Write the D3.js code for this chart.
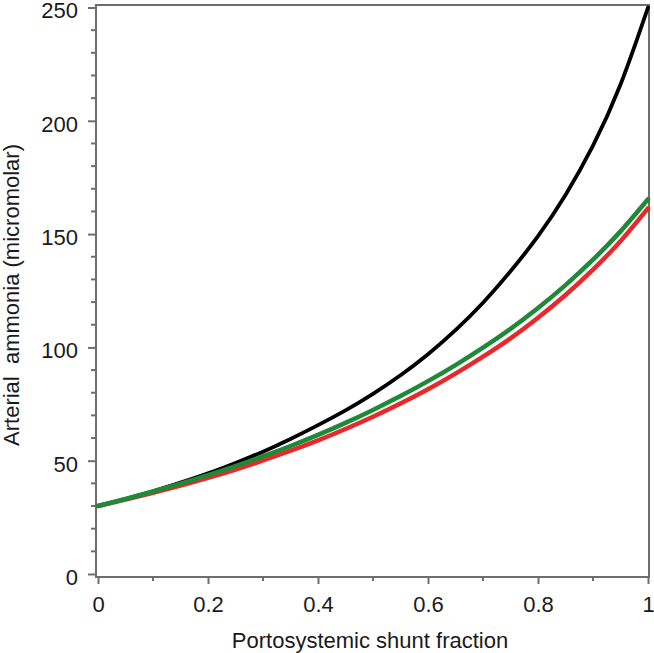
<!DOCTYPE html>
<html>
<head>
<meta charset="utf-8">
<script src="https://d3js.org/d3.v7.min.js"></script>
<style>
  body { margin: 0; background: #fff; }
  text { font-family: "Liberation Sans", Arial, sans-serif; fill: #1a1a1a; }
</style>
</head>
<body>
<div id="chart"></div>
<script>
// values
const shunt = [0, 0.05, 0.1, 0.15, 0.2, 0.25, 0.3, 0.35, 0.4, 0.45, 0.5,
               0.55, 0.6, 0.65, 0.7, 0.75, 0.8, 0.85, 0.9, 0.95, 1];
const blackSeries = [30, 33.1, 36.5, 40.3, 44.4, 49, 54, 59.6, 65.7, 72.2, 79.5,
                     87.7, 97, 107.6, 119.7, 133.6, 149.1, 167.3, 189, 216, 250];
const greenSeries = [30, 33.1, 36.4, 39.9, 43.6, 47.6, 51.9, 56.5, 61.4, 66.7, 72.4,
                     78.5, 85.1, 92.2, 99.9, 108.2, 117.4, 127.5, 138.7, 151.2, 165.4];
const redSeries = [30, 32.8, 35.8, 39, 42.4, 46.1, 50.1, 54.4, 59, 64, 69.4,
                   75.2, 81.5, 88.4, 95.9, 104, 113.1, 123.1, 134.3, 146.9, 161.4];
const xTicks = [0, 0.2, 0.4, 0.6, 0.8, 1];
const yTicks = [0, 50, 100, 150, 200, 250];

const W = 654, H = 653;
const AXIS = "#6e6e6e";

const svg = d3.select("#chart").append("svg")
    .attr("width", W)
    .attr("height", H);

const x = d3.scaleLinear().domain([0, 1]).range([98, 648]);
const y = d3.scaleLinear().domain([0, 250]).range([574, 7.5]);

const plotLeft = 96, plotRight = 649, plotTop = 5, plotBottom = 577;

// minor ticks
const yMinor = d3.range(0, 251, 10).filter(v => v % 50 !== 0);
const xMinor = d3.range(1, 10, 2).map(v => v / 10);

svg.append("g")
    .selectAll("line")
    .data(yMinor)
    .join("line")
    .attr("x1", plotLeft - 5).attr("x2", plotLeft)
    .attr("y1", d => y(d)).attr("y2", d => y(d))
    .attr("stroke", AXIS).attr("stroke-width", 2);

svg.append("g")
    .selectAll("line")
    .data(xMinor)
    .join("line")
    .attr("x1", d => x(d)).attr("x2", d => x(d))
    .attr("y1", plotBottom).attr("y2", plotBottom + 4)
    .attr("stroke", AXIS).attr("stroke-width", 2);

// major axes
const yAxis = svg.append("g")
    .attr("transform", "translate(" + plotLeft + ",0)")
    .call(d3.axisLeft(y).tickValues(yTicks).tickSize(8).tickPadding(10));
yAxis.select(".domain").remove();
yAxis.selectAll(".tick text").attr("dy", "0.47em");

const xAxis = svg.append("g")
    .attr("transform", "translate(0," + plotBottom + ")")
    .call(d3.axisBottom(x).tickValues(xTicks).tickSize(7).tickPadding(12)
        .tickFormat(d => d3.format("")(d)));
xAxis.select(".domain").remove();

svg.selectAll(".tick line").attr("stroke", AXIS).attr("stroke-width", 2);
svg.selectAll(".tick text")
    .style("font-size", "22px")
    .attr("fill", "#1a1a1a");

// frame
svg.append("path")
    .attr("d", "M" + plotLeft + "," + plotTop + "H" + plotRight + "V" + plotBottom + "H" + plotLeft + "Z")
    .attr("fill", "none")
    .attr("stroke", AXIS)
    .attr("stroke-width", 2);

// curves
const series = [
    { values: blackSeries, color: "#000000", width: 3.8 },
    { values: redSeries, color: "#e8282b", width: 4.5 },
    { values: greenSeries, color: "#1e8a38", width: 4.5 }
];

const line = d3.line()
    .x((d, i) => x(shunt[i]))
    .y(d => y(d))
    .curve(d3.curveNatural);

svg.append("g")
    .selectAll("path")
    .data(series)
    .join("path")
    .attr("d", d => line(d.values))
    .attr("fill", "none")
    .attr("stroke", d => d.color)
    .attr("stroke-width", d => d.width)
    .attr("stroke-linecap", "round");

// axis titles
svg.append("text")
    .attr("x", 370)
    .attr("y", 648)
    .attr("text-anchor", "middle")
    .style("font-size", "22px")
    .text("Portosystemic shunt fraction");

svg.append("text")
    .attr("transform", "translate(19,295) rotate(-90)")
    .attr("text-anchor", "middle")
    .style("font-size", "22px")
    .style("white-space", "pre")
    .text("Arterial  ammonia (micromolar)");
</script>
</body>
</html>
